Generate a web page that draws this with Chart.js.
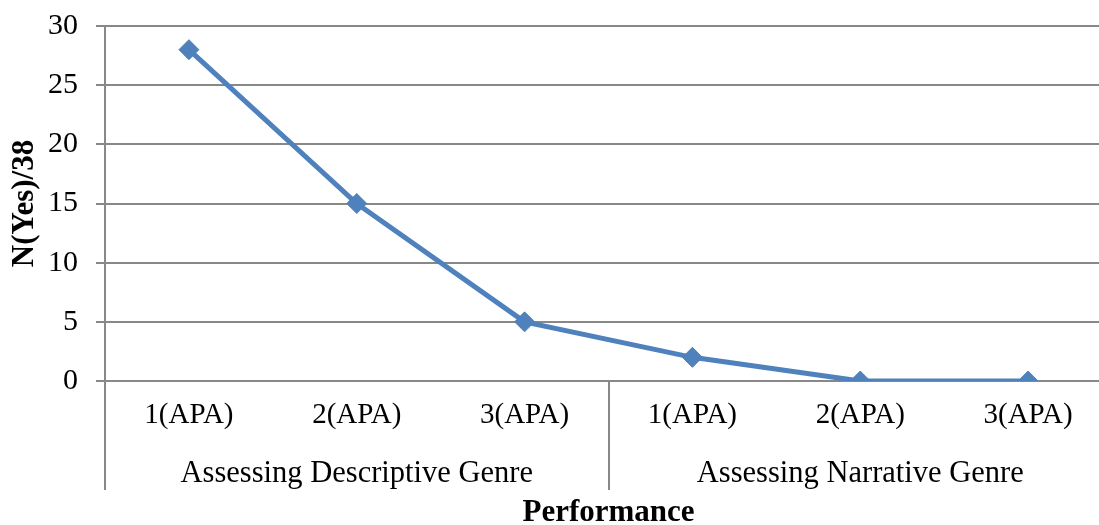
<!DOCTYPE html>
<html>
<head>
<meta charset="utf-8">
<script src="https://cdn.jsdelivr.net/npm/chart.js@4/dist/chart.umd.min.js"></script>
<style>
  html, body { margin: 0; padding: 0; background: #fff; overflow: hidden; }
  #wrap { width: 1112px; height: 525px; position: relative; }
</style>
</head>
<body>
<div id="wrap"><canvas id="chart"></canvas></div>
<script>
// Per-task labels, grouped by genre
const categories = ['1(APA)', '2(APA)', '3(APA)', '1(APA)', '2(APA)', '3(APA)'];
const groups = ['Assessing Descriptive Genre', 'Assessing Narrative Genre'];
const groupSizes = [3, 3];
// Number of "Yes" answers out of 38
const yesCounts = [28, 15, 5, 2, 0, 0];

const serif = '"Liberation Serif", "Times New Roman", serif';
const gridGray = '#888888';
const lineBlue = '#4F81BD';

// Vertical separators below the axis, marking each genre group
const groupDividers = {
  id: 'groupDividers',
  afterDraw(chart) {
    const x = chart.scales.x;
    const x2 = chart.scales.x2;
    const area = chart.chartArea;
    const ctx = chart.ctx;
    const bottom = x2.bottom - 35;
    const edges = [area.left];
    let idx = 0;
    groupSizes.forEach((n, i) => {
      idx += n;
      if (i < groupSizes.length - 1) {
        edges.push((x.getPixelForValue(idx - 1) + x.getPixelForValue(idx)) / 2);
      }
    });
    edges.push(area.right);
    ctx.save();
    ctx.strokeStyle = gridGray;
    ctx.lineWidth = 2;
    edges.forEach(px => {
      ctx.beginPath();
      ctx.moveTo(Math.round(px), area.bottom);
      ctx.lineTo(Math.round(px), bottom);
      ctx.stroke();
    });
    ctx.restore();
  }
};

new Chart(document.getElementById('chart'), {
  type: 'line',
  data: {
    labels: categories,
    datasets: [{
      data: yesCounts,
      borderColor: lineBlue,
      backgroundColor: lineBlue,
      borderWidth: 5,
      tension: 0,
      pointStyle: 'rectRot',
      pointRadius: 10,
      pointHoverRadius: 10,
      pointBackgroundColor: lineBlue,
      pointBorderColor: lineBlue,
      pointBorderWidth: 1
    }]
  },
  options: {
    responsive: true,
    maintainAspectRatio: false,
    animation: false,
    layout: { autoPadding: false, padding: { top: 26, right: 0, bottom: 0, left: 0 } },
    plugins: { legend: { display: false }, tooltip: { enabled: false } },
    scales: {
      y: {
        min: 0,
        max: 30,
        ticks: {
          stepSize: 5,
          color: '#000',
          padding: 18,
          font: { family: serif, size: 30, lineHeight: 0.5 }
        },
        grid: { color: gridGray, lineWidth: 2, tickLength: 9, drawTicks: true },
        border: { display: true, color: gridGray, width: 2 },
        title: {
          display: true,
          text: 'N(Yes)/38',
          color: '#000',
          padding: 6,
          font: { family: serif, size: 31, weight: 'bold' }
        },
        afterFit(scale) { scale.width = 105; }
      },
      x: {
        type: 'category',
        offset: true,
        weight: 0,
        grid: { display: false },
        border: { display: false },
        ticks: {
          color: '#000',
          padding: 9,
          maxRotation: 0,
          autoSkip: false,
          font: { family: serif, size: 29 }
        },
        afterFit(scale) { scale.height = 60; }
      },
      x2: {
        type: 'category',
        position: 'bottom',
        labels: groups,
        offset: true,
        weight: 1,
        grid: { display: false },
        border: { display: false },
        ticks: {
          color: '#000',
          padding: 7,
          maxRotation: 0,
          autoSkip: false,
          font: { family: serif, size: 30.5 }
        },
        title: {
          display: true,
          text: 'Performance',
          color: '#000',
          padding: 0,
          font: { family: serif, size: 31, weight: 'bold', lineHeight: 0.8 }
        },
        afterFit(scale) { scale.height = 84; }
      }
    }
  },
  plugins: [groupDividers]
});
</script>
</body>
</html>
